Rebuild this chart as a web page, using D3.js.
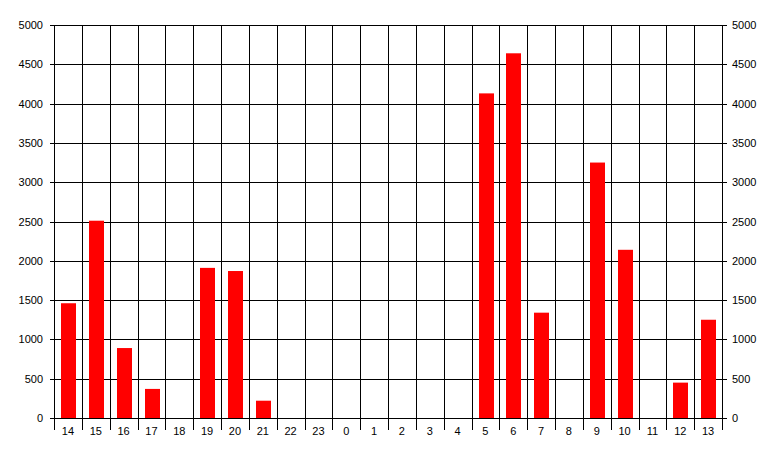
<!DOCTYPE html>
<html><head><meta charset="utf-8">
<script src="https://cdn.jsdelivr.net/npm/d3@7"></script>
<style>body{margin:0;background:#fff}svg{display:block}text{font-family:Arial,"Liberation Sans",sans-serif;font-size:11px;fill:#000}</style>
</head><body>
<script>
const categories = ["14","15","16","17","18","19","20","21","22","23","0","1","2","3","4","5","6","7","8","9","10","11","12","13"];
const values = [1460,2510,890,370,0,1910,1870,220,0,0,0,0,0,0,0,4130,4640,1340,0,3250,2140,0,450,1250];
const yTicks = [0,500,1000,1500,2000,2500,3000,3500,4000,4500,5000];

const W = 777, H = 457;
const L = 54, R = 722, T = 25, B = 418;
const svg = d3.select("body").append("svg").attr("width", W).attr("height", H);
const x = d3.scaleBand().domain(categories).range([L, R]).paddingInner(0).paddingOuter(0);
const y = d3.scaleLinear().domain([0, 5000]).range([B, T]);
const bw = x.bandwidth();
const barW = 15;

// horizontal gridlines
svg.append("g").selectAll("line").data(yTicks).join("line")
  .attr("x1", L - 4).attr("x2", R + 5)
  .attr("y1", d => Math.round(y(d)) + 0.5).attr("y2", d => Math.round(y(d)) + 0.5)
  .attr("stroke", "#000");

// vertical gridlines and bottom ticks
const bounds = categories.map(c => x(c)).concat([R]);
svg.append("g").selectAll("line").data(bounds).join("line")
  .attr("x1", d => Math.round(d) + 0.5).attr("x2", d => Math.round(d) + 0.5)
  .attr("y1", T).attr("y2", B + 12)
  .attr("stroke", "#000");

// bars
svg.append("g").selectAll("rect").data(values.map((v, i) => ({c: categories[i], v}))).join("rect")
  .attr("x", d => Math.round(x(d.c) + 7))
  .attr("width", barW)
  .attr("y", d => y(d.v))
  .attr("height", d => y(0) - y(d.v))
  .attr("fill", "#ff0000");

// redraw baseline on top
svg.append("line").attr("x1", L - 4).attr("x2", R + 5)
  .attr("y1", Math.round(y(0)) + 0.5).attr("y2", Math.round(y(0)) + 0.5).attr("stroke", "#000");

// left labels
svg.append("g").selectAll("text").data(yTicks).join("text")
  .attr("x", L - 11).attr("y", d => y(d) + 4)
  .attr("text-anchor", "end").text(d => d);
// right labels
svg.append("g").selectAll("text").data(yTicks).join("text")
  .attr("x", R + 10).attr("y", d => y(d) + 4)
  .attr("text-anchor", "start").text(d => d);
// category labels
svg.append("g").selectAll("text").data(categories).join("text")
  .attr("x", d => x(d) + bw / 2).attr("y", B + 17)
  .attr("text-anchor", "middle").text(d => d);
</script>
</body></html>
